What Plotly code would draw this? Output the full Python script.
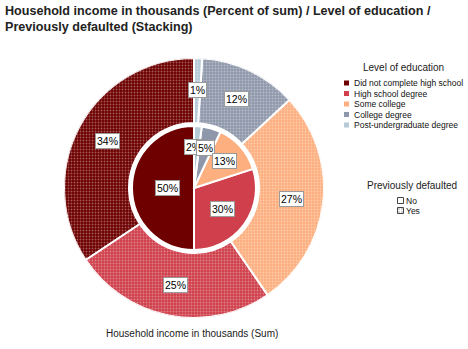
import math
import plotly.graph_objects as go

# Household income (percent of sum) by level of education, split by default status
education = ["Did not complete high school", "High school degree", "Some college",
             "College degree", "Post-undergraduate degree"]
colors = ["#6e0000", "#cf3f4c", "#fdaf80", "#8f98ab", "#b5c9d6"]
income_no = [50, 30, 13, 5, 2]      # inner ring: previously defaulted = No
income_yes = [34, 25, 27, 12, 1]    # outer ring: previously defaulted = Yes
default_status = ["No", "Yes"]

W, H = 468, 349
cx, cy = 194, 188           # pie centre in pixels (from top-left)
r_outer, r_hole, r_inner = 130, 65, 62
FONT = "Liberation Sans, Arial, sans-serif"


def angles(values):
    total = sum(values)
    out, start = [], 0.0
    for v in values:
        w = v / total * 360
        out.append((start + w / 2, w))
        start += w
    return out


fig = go.Figure()

ang_no = angles(income_no)
ang_yes = angles(income_yes)

# Inner ring (No): solid sectors
for name, col, (mid, w), v in zip(education, colors, ang_no, income_no):
    fig.add_trace(go.Barpolar(
        r=[r_inner], base=[0], theta=[mid], width=[w], name=name,
        marker=dict(color=col, line=dict(color="white", width=2)),
        hovertext=[f"{name}: {v}%"], hoverinfo="text", showlegend=False))

# Outer ring (Yes): dotted sectors
for name, col, (mid, w), v in zip(education, colors, ang_yes, income_yes):
    fig.add_trace(go.Barpolar(
        r=[r_outer - r_hole], base=[r_hole], theta=[mid], width=[w], name=name,
        marker=dict(color=col, line=dict(color="white", width=2),
                    pattern=dict(shape=".", fgcolor="white", fgopacity=0.35,
                                 size=3, solidity=0.3)),
        hovertext=[f"{name}: {v}%"], hoverinfo="text", showlegend=False))

annotations = []
shapes = []


def label(x, y, text, size=10, xanchor="center", color="black", **kw):
    annotations.append(dict(x=x / W, y=1 - y / H, xref="paper", yref="paper",
                            showarrow=False, text=text, xanchor=xanchor,
                            yanchor="middle", font=dict(family=FONT, size=size, color=color),
                            **kw))


box = dict(bgcolor="white", bordercolor="#9a9a9a", borderwidth=1, borderpad=1)

# Percent labels: outer ring at mid radius, inner ring at sector centroid
for (mid, w), v in zip(ang_yes, income_yes):
    rr = (r_hole + r_outer) / 2 + 1
    a = math.radians(mid)
    label(cx - math.sin(a) * rr, cy - math.cos(a) * rr, f"{v}%", size=10.5, **box)

inner_labels = []
for (mid, w), v in zip(ang_no, income_no):
    half = math.radians(w) / 2
    rr = r_inner * 2 * math.sin(half) / (3 * half)
    a = math.radians(mid)
    x, y = cx - math.sin(a) * rr, cy - math.cos(a) * rr
    # nudge a label sideways when it sits almost on top of the previous one
    if inner_labels:
        px, py, _ = inner_labels[-1]
        if abs(py - y) < 12 and abs(px - x) < 12:
            x = px - 12 if x <= px else px + 12
    inner_labels.append((x, y, f"{v}%"))
# smallest slices first so larger slices' labels sit on top
for x, y, t in reversed(inner_labels):
    label(x, y, t, size=10.5, **box)

# Title and axis caption
annotations.append(dict(
    x=3 / W, y=1 - 2 / H, xref="paper", yref="paper", showarrow=False,
    xanchor="left", yanchor="top", align="left",
    text="<b>Household income in thousands (Percent of sum) / Level of education /<br>"
         "Previously defaulted (Stacking)</b>",
    font=dict(family=FONT, size=12.6, color="#222222")))
label(104, 333, "Household income in thousands (Sum)", size=10, xanchor="left", color="#222222")

# Legend: level of education
label(403, 67, "Level of education", size=10, color="#222222")
leg_y = [83, 93.5, 104, 114.5, 125]
for name, col, y in zip(education, colors, leg_y):
    shapes.append(dict(type="rect", xref="paper", yref="paper",
                       x0=344 / W, x1=349 / W, y0=1 - (y + 2.5) / H, y1=1 - (y - 2.5) / H,
                       fillcolor=col, line=dict(width=0)))
    label(351.5, y, name, size=8.5, xanchor="left", color="#111111")

# Legend: previously defaulted
label(412, 185, "Previously defaulted", size=10, color="#222222")
for status, y in zip(default_status, [200.5, 210.5]):
    shapes.append(dict(type="rect", xref="paper", yref="paper",
                       x0=397.5 / W, x1=403.5 / W, y0=1 - (y + 3) / H, y1=1 - (y - 3) / H,
                       fillcolor="white", line=dict(color="#444444", width=1)))
    if status == "Yes":
        for dx in (-1.5, 1.5):
            for dy in (-1.5, 1.5):
                shapes.append(dict(type="rect", xref="paper", yref="paper",
                                   x0=(400.5 + dx - 0.5) / W, x1=(400.5 + dx + 0.5) / W,
                                   y0=1 - (y + dy + 0.5) / H, y1=1 - (y + dy - 0.5) / H,
                                   fillcolor="#555555", line=dict(width=0)))
    label(404, y, status, size=8.5, xanchor="left", color="#111111")

fig.update_layout(
    width=W, height=H,
    margin=dict(l=0, r=0, t=0, b=0),
    paper_bgcolor="white",
    showlegend=False,
    polar=dict(
        domain=dict(x=[(cx - r_outer) / W, (cx + r_outer) / W],
                    y=[(H - cy - r_outer) / H, (H - cy + r_outer) / H]),
        bgcolor="white", hole=0,
        radialaxis=dict(range=[0, r_outer], visible=False, showgrid=False),
        angularaxis=dict(visible=False, rotation=90, direction="counterclockwise",
                         showgrid=False, thetaunit="degrees"),
    ),
    annotations=annotations,
    shapes=shapes,
)

fig.write_html("out.html")
